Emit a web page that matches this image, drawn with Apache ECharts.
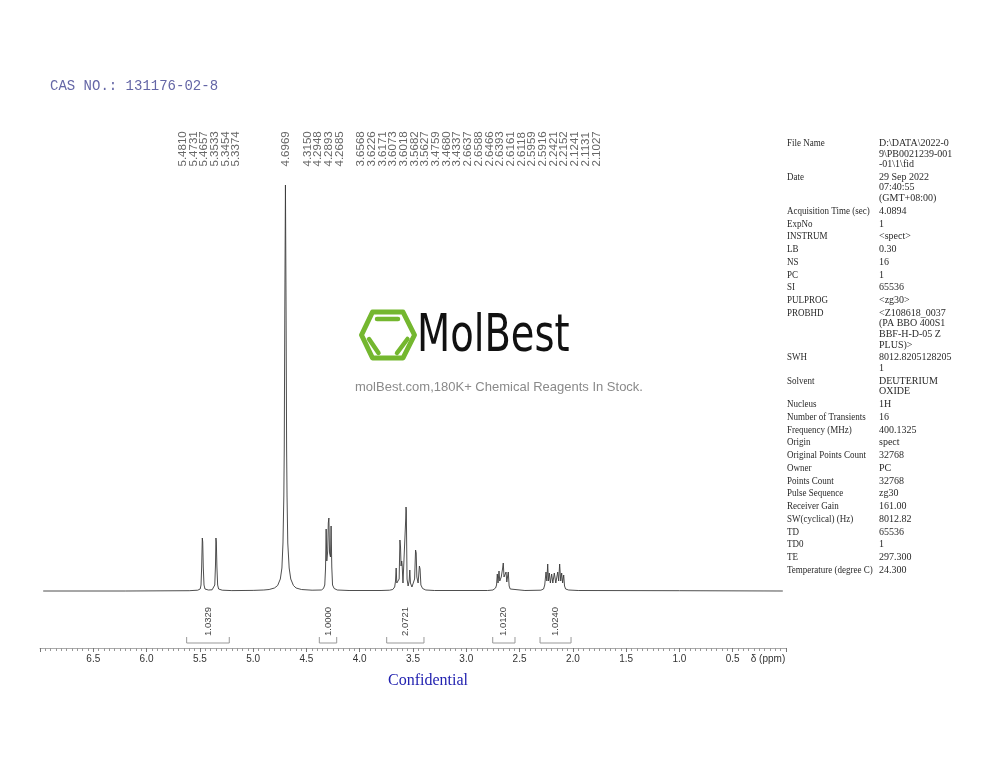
<!DOCTYPE html>
<html><head><meta charset="utf-8">
<script src="https://cdn.jsdelivr.net/npm/echarts@6/dist/echarts.min.js"></script>
<style>html,body{margin:0;padding:0;background:#fff}#c{width:1000px;height:773px}</style>
</head><body><div id="c"></div>
<script>
// 1H NMR trace: [chemical shift (ppm), intensity (arbitrary units)]
const spectrum = [
[6.97,0],[6.20,0],[5.60,0.3],[5.52,0.8],[5.497,2],[5.489,6],[5.483,24],[5.4770,53],[5.4731,49],[5.4680,24],[5.461,6],[5.452,2],[5.42,1],[5.385,1.2],[5.368,2],[5.360,6],[5.3533,26],[5.3490,53],[5.3454,49],[5.3400,24],[5.333,6],[5.324,2],[5.29,0.8],[5.20,0.4],[5.00,0.6],[4.90,1],[4.85,1.5],[4.80,3],[4.77,5.5],[4.745,12],[4.73,23],[4.72,48],[4.712,95],[4.708,142],[4.7029,280],[4.6969,406],[4.6909,280],[4.6859,142],[4.682,95],[4.675,48],[4.662,23],[4.647,12],[4.622,5.5],[4.597,3],[4.547,1.5],[4.447,0.8],
[4.36,1],[4.34,2.5],[4.328,6],[4.321,22],[4.315,62],[4.309,30],[4.3005,40],[4.2948,68],[4.2893,73],[4.283,38],[4.2745,34],[4.2685,65],[4.262,24],[4.255,6],[4.24,2.5],[4.21,1],[4.10,0.5],[3.80,0.5],
[3.72,0.8],[3.69,1.5],[3.672,4],[3.664,10],[3.658,23],[3.652,8],[3.640,6],[3.630,12],[3.6226,51],[3.6171,44],[3.6120,25],[3.6060,30],[3.6018,26],[3.594,8],[3.582,10],[3.5682,72],[3.5655,84],[3.5627,80],[3.556,12],[3.546,5],[3.536,10],[3.530,21],[3.524,8],[3.510,4],[3.496,5],[3.485,12],[3.4759,41],[3.4700,38],[3.4640,14],[3.452,8],[3.4400,25],[3.4337,22],[3.426,6],[3.41,2.5],[3.38,1],[3.30,0.5],[2.80,0.5],
[2.75,1],[2.725,3],[2.716,6],[2.709,17],[2.702,8],[2.693,20],[2.686,10],[2.672,14],[2.660,22],[2.653,28],[2.646,14],[2.635,12],[2.627,19],[2.620,9],[2.613,11],[2.606,19],[2.598,5],[2.588,2],[2.57,1],[2.45,0.5],
[2.30,0.8],[2.275,2],[2.264,6],[2.252,19],[2.244,10],[2.236,27],[2.229,10],[2.221,18],[2.211,8],[2.199,17],[2.188,8],[2.174,18],[2.160,8],[2.142,19],[2.133,10],[2.124,27],[2.114,10],[2.105,18],[2.096,8],[2.086,16],[2.078,5],[2.068,2],[2.04,1],[1.95,0.5],[1.0,0.3],[0.03,0]
];
// picked peaks (ppm)
const peakShifts = [5.4810,5.4731,5.4657,5.3533,5.3454,5.3374,4.6969,4.3150,4.2948,4.2893,4.2685,
3.6568,3.6226,3.6171,3.6073,3.6018,3.5682,3.5627,3.4759,3.4680,3.4337,
2.6637,2.6588,2.6466,2.6393,2.6161,2.6118,2.5959,2.5916,2.2421,2.2152,2.1241,2.1131,2.1027];
// integral regions: from ppm, to ppm, value
const integralFrom = [5.624,4.379,3.747,2.752,2.308];
const integralTo   = [5.224,4.216,3.397,2.543,2.017];
const integralVal  = ['1.0329','1.0000','2.0721','1.0120','1.0240'];
const xTickLabels = [6.5,6.0,5.5,5.0,4.5,4.0,3.5,3.0,2.5,2.0,1.5,1.0,0.5];
const infoKeys = ['File Name','Date','Acquisition Time (sec)','ExpNo','INSTRUM','LB','NS','PC','SI','PULPROG','PROBHD','SWH','Solvent','Nucleus','Number of Transients','Frequency (MHz)','Origin','Original Points Count','Owner','Points Count','Pulse Sequence','Receiver Gain','SW(cyclical) (Hz)','TD','TD0','TE','Temperature (degree C)'];
const infoVals = ['D:\\DATA\\2022-0\n9\\PB0021239-001\n-01\\1\\fid','29 Sep 2022\n07:40:55\n(GMT+08:00)','4.0894','1','<spect>','0.30','16','1','65536','<zg30>','<Z108618_0037\n(PA BBO 400S1\nBBF-H-D-05 Z\nPLUS)>','8012.8205128205\n1','DEUTERIUM\nOXIDE','1H','16','400.1325','spect','32768','PC','32768','zg30','161.00','8012.82','65536','1','297.300','24.300'];

const chart = echarts.init(document.getElementById('c'), null, {renderer:'canvas'});
const SP = 10.7;
function layoutLabels(api){
  const xs = peakShifts.map(p => api.coord([p,0])[0]);
  let cl = xs.map((x,i)=>({ids:[i], sum:x, shift:0}));
  const first = c => c.sum/c.ids.length + c.shift - (c.ids.length-1)*SP/2;
  const last  = c => c.sum/c.ids.length + c.shift + (c.ids.length-1)*SP/2;
  // merge clusters whose label runs overlap
  let changed = true;
  while(changed){
    changed = false;
    for(let i=0;i<cl.length-1;i++){
      const a=cl[i], b=cl[i+1];
      if (first(b) - last(a) < SP - 1){
        cl.splice(i,2,{ids:a.ids.concat(b.ids), sum:a.sum+b.sum, shift:0});
        changed = true; break;
      }
    }
  }
  // keep a free gap between separate clusters
  for(let it=0; it<20; it++){
    for(let i=0;i<cl.length-1;i++){
      const d = first(cl[i+1]) - last(cl[i]);
      if (d < 2*SP){ cl[i].shift -= (2*SP-d)/2; cl[i+1].shift += (2*SP-d)/2; }
    }
  }
  const pos = [];
  cl.forEach(c=>{
    const n=c.ids.length, cen=c.sum/n + c.shift;
    c.ids.forEach((id,k)=>{ pos[id] = cen + (k-(n-1)/2)*SP; });
  });
  return pos;
}

const graphics = [];
graphics.push({type:'text', left:50, top:79, style:{text:'CAS NO.: 131176-02-8', font:'14px "Liberation Mono"', fill:'#6466a6'}});
// info table
let ty = 138;
infoKeys.forEach((k,i)=>{
  const lines = infoVals[i].split('\n').length;
  graphics.push({type:'text', x:787, y:ty, scaleX:0.9, style:{text:k, font:'10px "Liberation Serif"', fill:'#2a2a2a', lineHeight:10.6, verticalAlign:'top'}});
  graphics.push({type:'text', x:879, y:ty, style:{text:infoVals[i], font:'10px "Liberation Serif"', fill:'#2a2a2a', lineHeight:10.6, verticalAlign:'top'}});
  ty += 12.75 + (lines-1)*10.6;
});
// logo watermark
graphics.push({type:'polygon', shape:{points:[[361.5,335],[372.5,312],[403,312],[414.5,335],[403,358],[372.5,358]]}, style:{fill:'none', stroke:'#74b72f', lineWidth:5, lineJoin:'round'}});
graphics.push({type:'line', shape:{x1:377,y1:319,x2:398,y2:319}, style:{stroke:'#74b72f', lineWidth:4.5, lineCap:'round'}});
graphics.push({type:'line', shape:{x1:369,y1:339,x2:378.5,y2:353}, style:{stroke:'#74b72f', lineWidth:4.5, lineCap:'round'}});
graphics.push({type:'line', shape:{x1:407.5,y1:339,x2:397,y2:353}, style:{stroke:'#74b72f', lineWidth:4.5, lineCap:'round'}});
graphics.push({type:'text', x:417, y:337, scaleX:0.74, style:{text:'MolBest', font:'52px "DejaVu Sans"', fill:'#111', verticalAlign:'middle'}});
graphics.push({type:'text', x:499, y:387, style:{text:'molBest.com,180K+ Chemical Reagents In Stock.', font:'13px "Liberation Sans"', fill:'#8a8a8a', align:'center', verticalAlign:'middle'}});
graphics.push({type:'text', x:768, y:659, style:{text:'δ (ppm)', font:'10px "Liberation Sans"', fill:'#333', align:'center', verticalAlign:'middle'}});
graphics.push({type:'text', x:428, y:681, style:{text:'Confidential', font:'16px "Liberation Serif"', fill:'#2222b0', align:'center', verticalAlign:'middle'}});

chart.setOption({
  animation:false,
  backgroundColor:'#fff',
  grid:{left:40, right:214, top:185, bottom:125},
  xAxis:{type:'value', min:0, max:7, inverse:true, interval:0.5,
    axisLine:{show:true, onZero:false, lineStyle:{color:'#aaa', width:1}},
    axisTick:{show:true, length:4, lineStyle:{color:'#777'}},
    minorTick:{show:true, splitNumber:10, length:3, lineStyle:{color:'#999'}},
    splitLine:{show:false},
    axisLabel:{margin:6, fontSize:10, fontFamily:'Liberation Sans', color:'#333',
      formatter:v=> xTickLabels.some(t=>Math.abs(t-v)<1e-6) ? v.toFixed(1) : ''}},
  yAxis:{type:'value', min:-57, max:406, show:false},
  graphic: graphics,
  series:[
    {type:'line', data:spectrum, showSymbol:false, symbol:'none', lineStyle:{color:'#3a3a3a', width:0.9}, z:3},
    {type:'custom', clip:false, data:integralFrom.map((f,i)=>[f, integralTo[i]]),
      renderItem:(params, api)=>{
        const i = params.dataIndex;
        const p1 = api.coord([integralFrom[i],0]), p2 = api.coord([integralTo[i],0]);
        const y = p1[1]+52;
        return {type:'group', children:[
          {type:'polyline', shape:{points:[[p1[0],y-6],[p1[0],y],[p2[0],y],[p2[0],y-6]]}, style:{stroke:'#999', lineWidth:1, fill:null}},
          {type:'text', x:(p1[0]+p2[0])/2, y:y-7, rotation:Math.PI/2, style:{text:integralVal[i], font:'9.5px "Liberation Sans"', fill:'#444', align:'left', verticalAlign:'middle'}}
        ]};
      }},
    {type:'custom', clip:false, data:peakShifts.map(p=>[p,0]),
      renderItem:(params, api)=>{
        const pos = layoutLabels(api);
        const i = params.dataIndex;
        return {type:'text', x:pos[i], y:166.5, rotation:Math.PI/2, style:{text:peakShifts[i].toFixed(4), font:'11.5px "Liberation Sans"', fill:'#666', align:'left', verticalAlign:'middle'}};
      }}
  ]
});
</script></body></html>
